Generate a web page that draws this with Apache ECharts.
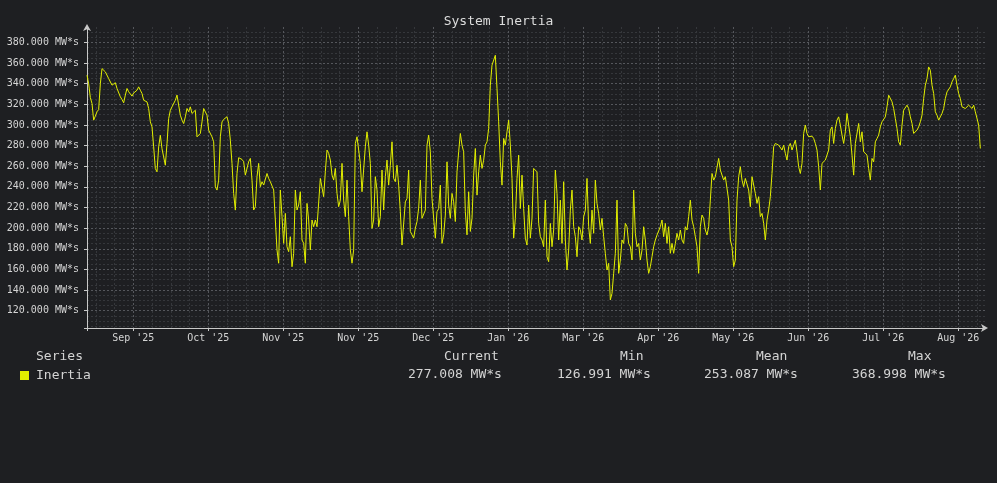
<!DOCTYPE html>
<html>
<head>
<meta charset="utf-8">
<title>System Inertia</title>
<script src="https://cdn.jsdelivr.net/npm/echarts@6/dist/echarts.min.js"></script>
<style>
  html, body { margin: 0; padding: 0; background: #1e1f22; }
  #chart { width: 997px; height: 483px; }
</style>
</head>
<body>
<div id="chart"></div>
<script>
var seriesName = 'Inertia';
var unit = 'MW*s';
var sampleStepDays = 2 / 3; // one sample every 16 h

var monthLabels = ["Sep '25", "Oct '25", "Nov '25", "Nov '25", "Dec '25", "Jan '26",
                   "Mar '26", "Apr '26", "May '26", "Jun '26", "Jul '26", "Aug '26"];
var monthTickDays = [18.5, 48.5, 78.5, 108.5, 138.5, 168.5, 198.5, 228.5, 258.5, 288.5, 318.5, 348.5];
var yTickValues = [120, 140, 160, 180, 200, 220, 240, 260, 280, 300, 320, 340, 360, 380];

var statHeaders = ['Current', 'Min', 'Mean', 'Max'];
var statValues = [277.008, 126.991, 253.087, 368.998];

var inertia = [
  348.3, 340, 326.6, 320.8, 304.7, 308.6, 312.8, 315, 340, 354.7,
  354.7, 351.5, 350, 345, 343.4, 338.6, 337, 341, 335.4, 333.7,
  327.3, 324.7, 321.5, 329, 335.4, 332.2, 330.5, 328, 331, 332,
  333.7, 337, 333.7, 330.5, 324, 324, 322.4, 316, 303, 298.2,
  278.8, 257.8, 254.6, 278.8, 290, 277, 275.6, 261, 282, 306.2,
  314.3, 317.6, 317.6, 324, 329, 327.3, 309.5, 304.7, 301.4, 307.9,
  316, 312.8, 317.6, 311.2, 312.8, 314.3, 288.5, 290, 291.8, 303,
  316, 317.6, 309.5, 295, 296.6, 288.5, 283.7, 240, 236.9, 246.6,
  288.5, 303, 305.4, 307.3, 308, 301.4, 285.3, 262.7, 233.6, 217.5,
  253,
  268.3, 267.6, 266.6, 264.4, 251.4, 250.5, 264.4, 267.6, 246.6, 217.6,
  220.8, 249.9, 262.8, 240.2, 245, 241.8, 241.8, 253, 248.2, 245,
  243.4, 237, 207.9, 178.9, 166, 237, 211.1, 185.3, 214.3, 182,
  177.2, 191.7, 162.6, 175.6, 237, 217.6, 222.4, 235.3, 188.5, 185.3,
  166, 224, 207.9, 178.9, 207.9, 201.4, 207.9, 201.4, 201.4, 248.2,
  246.6, 230.5, 254.7, 275.7, 272.5, 266, 251.5, 246.6, 257.9, 233.7,
  220.8, 227.2, 262.8, 227.2, 211.1, 246.6, 211.1, 178.9, 166, 178.9,
  282.1, 288.6, 290.2, 262.8, 235.3, 237, 278.9, 293.4, 280.5, 262.8,
  199.8, 207.9, 249.9, 237, 201.4, 211.1, 256.3, 217.6, 249.9, 266,
  241.7, 261, 283.7, 248.2, 245, 261, 241.7, 215.9, 183.6, 185.2,
  225.5, 228.8, 256.3, 196.8, 193.5, 190.3, 200, 206.4, 219.4, 246.6,
  209.5, 207.9, 217.5, 280.5, 290.2, 274, 228.8, 228.8, 190.3, 215.9,
  219, 241.7, 185.2, 193.5, 212.7, 264.3, 222.4, 209.5, 233.7, 225.5,
  206.4, 254.6, 274, 291.8, 280.5, 274, 215.9, 193.5, 235.3, 196.8,
  209.5, 251.4, 277.2, 232, 254.6, 270.8, 257.9, 265.9, 280.5, 283.7,
  296.6, 338.6, 358, 359.6, 367.6, 335.4, 303.1, 264.3, 241.7, 287,
  280.5, 293.4, 304.7, 280.5, 248.2, 190.3, 209.5, 248.2, 270.8, 219,
  251.4, 219, 190.3, 183.6, 222.4, 190.3, 209.5, 257.9, 256.3, 254.6,
  204.6, 191.7, 188.5, 182, 227.2, 172.3, 167.5, 204.6, 182, 198.2,
  256.3, 233.7, 188.5, 227.2, 185.2, 245, 188.5, 159.4, 178.8, 217.5,
  236.9, 201.4, 191.7, 172.3, 201.4, 198.2, 188.5, 211, 217.5, 248.2,
  201.4, 185.2, 217.5, 195, 246.6, 224, 214.3, 198.2, 209.5, 191.7,
  175.6, 159.4, 165.9, 130.4, 136.8, 156.2, 175.6, 227.2, 156.2, 169.1,
  188.5, 185.2, 204.6, 201.4, 185.2, 182, 169.1, 236.9, 195, 182,
  185.2, 169.1, 178.8, 201.4, 188.5, 169.1, 156.2, 162.6, 172.3, 182,
  188.5, 193.3, 193.3, 201.4, 207.9, 191.7, 204.6, 185.2, 201.4, 175.6,
  185.2, 175.6, 185.2, 195, 188.5, 198.2, 188.5, 185.2, 201.4, 198.2,
  211.1, 227.2, 207.9, 201.4, 191.7, 182, 156.2, 201.4, 212.7, 209.5,
  198.2, 193.3, 201.4, 227.2, 253, 246.6, 249.9, 251.5, 267.6, 256.3,
  254.7, 246.6, 249.9, 248.2, 227.2, 188.5, 182, 162.6, 169.1, 227.2,
  249.9, 259.5, 246.6, 240.2, 248.2, 249.9, 237, 220.8, 249.9, 250.5,
  233.7, 224, 230.5, 211.1, 214.3, 204.6, 188.5, 207.9, 217.6, 230.5,
  253, 278.9, 282.1, 283.7, 280.5, 278.9, 275.7, 280.5, 272.5, 266,
  278.9, 282.1, 275.7, 280.5, 285.3, 274, 259.5, 253, 262.8, 291.8,
  299.9, 291.8, 288.6, 288.6, 289.2, 287, 282.1, 275.7, 259.5, 237,
  262.8, 261.1, 266, 267.6, 275.7, 295, 298.2, 282.1, 296.6, 304.7,
  307.9, 299.9, 290.2, 282.1, 293.4, 311.2, 309.5, 288.6, 270.8, 251.4,
  282.1, 282.1, 301.5, 283.7, 293.4, 274, 272.4, 270.8, 257.9, 246.6,
  267.6, 264.3, 283.7, 286.9, 290.2, 298.2, 303.1, 303.1, 307.9, 317.6,
  328.9, 330.5, 322.5, 316, 306.3, 296.6, 283.7, 280.5, 299.9, 314.4,
  316, 319.2, 316, 307.9, 301.5, 291.8, 290.2, 295, 298.2, 303.1,
  309.5, 325.7, 338.6, 345, 356.3, 353.1, 338.6, 330.5, 312.8, 309.5,
  304.7, 307.9, 311.2, 316, 325.7, 332.1, 333.7, 337, 341.8, 345,
  348.3, 338.6, 330.5, 325.7, 317.6, 317.6, 316, 317.6, 319.2, 320.8,
  316, 319.2, 312.8, 311.2, 299.9, 277.2
];

var X_MIN = 0, X_MAX = 359.2;
var Y_MIN = 103.2, Y_MAX = 395;
var MONO = "'DejaVu Sans Mono', monospace";
var TEXT = '#d4d4d4';
var AXIS = '#c8c8c8';
var LINE = '#e2ef00';

// minor grid: quarter steps between month lines, 5 units on y
var xMinor = [];
for (var d = monthTickDays[0] - 15; d < X_MAX; d += 7.5) {
  var isMajor = monthTickDays.some(function(m) { return Math.abs(m - d) < 0.01; });
  if (d > X_MIN && !isMajor) xMinor.push(d);
}
var yMinor = [];
for (var v = 105; v < Y_MAX; v += 5) {
  if (v % 20 !== 0) yMinor.push(v);
}

var points = inertia.map(function(val, i) { return [i * sampleStepDays, val]; });

var chart = echarts.init(document.getElementById('chart'));

var graphic = [];
graphic.push({ type: 'text', left: 36, top: 350, style: { text: 'Series', font: '13px ' + MONO, fill: TEXT } });
var headerX = [444, 620, 756, 908];
var valueX = [408, 557, 704, 852];
statHeaders.forEach(function(h, i) {
  graphic.push({ type: 'text', left: headerX[i], top: 350, style: { text: h, font: '13px ' + MONO, fill: TEXT } });
  graphic.push({ type: 'text', left: valueX[i], top: 368, style: { text: statValues[i].toFixed(3) + ' ' + unit, font: '13px ' + MONO, fill: TEXT } });
});

chart.setOption({
  backgroundColor: '#1e1f22',
  animation: false,
  title: {
    text: 'System Inertia', left: 'center', top: 10,
    textStyle: { color: '#dcdcdc', fontSize: 13, fontWeight: 'normal', fontFamily: MONO }
  },
  legend: {
    data: [seriesName], left: 15, top: 364, icon: 'rect', itemWidth: 9, itemHeight: 9,
    textStyle: { color: TEXT, fontSize: 13, fontFamily: MONO, padding: [0, 0, 0, 2] }
  },
  graphic: graphic,
  grid: { left: 87, right: 12, top: 27, bottom: 155 },
  xAxis: [{
    type: 'value', min: X_MIN, max: X_MAX,
    axisLine: { lineStyle: { color: AXIS, width: 1 }, symbol: ['none', 'arrow'], symbolSize: [6, 7], symbolOffset: [0, 3] },
    axisTick: { show: true, length: 3, lineStyle: { color: AXIS }, customValues: [0].concat(monthTickDays) },
    axisLabel: {
      customValues: monthTickDays, color: TEXT, fontSize: 10, fontFamily: MONO, margin: 5,
      formatter: function(val) {
        var k = monthTickDays.indexOf(val);
        return k >= 0 ? monthLabels[k] : '';
      }
    },
    splitLine: { show: true, lineStyle: { color: '#55575c', type: [2, 2], width: 1 } }
  }, {
    type: 'value', min: X_MIN, max: X_MAX, position: 'bottom',
    axisLine: { show: false }, axisLabel: { show: false },
    axisTick: { show: false, customValues: xMinor },
    splitLine: { show: true, lineStyle: { color: '#35373b', type: [2, 2], width: 1 } }
  }],
  yAxis: [{
    type: 'value', min: Y_MIN, max: Y_MAX,
    axisLine: { show: true, lineStyle: { color: AXIS, width: 1 }, symbol: ['none', 'arrow'], symbolSize: [6, 7], symbolOffset: [0, 3] },
    axisTick: { show: true, length: 3, lineStyle: { color: AXIS }, customValues: [Y_MIN].concat(yTickValues) },
    axisLabel: {
      customValues: yTickValues, color: TEXT, fontSize: 10, fontFamily: MONO, margin: 8,
      formatter: function(val) { return val.toFixed(3) + ' ' + unit; }
    },
    splitLine: { show: true, lineStyle: { color: '#55575c', type: [2, 2], width: 1 } }
  }, {
    type: 'value', min: Y_MIN, max: Y_MAX, position: 'left',
    axisLine: { show: false }, axisLabel: { show: false },
    axisTick: { show: false, customValues: yMinor },
    splitLine: { show: true, lineStyle: { color: '#35373b', type: [2, 2], width: 1 } }
  }],
  series: [{
    name: seriesName,
    type: 'line',
    xAxisIndex: 0, yAxisIndex: 0,
    data: points,
    showSymbol: false,
    symbol: 'none',
    itemStyle: { color: LINE },
    lineStyle: { color: LINE, width: 1 },
    z: 5
  }]
});
</script>
</body>
</html>
